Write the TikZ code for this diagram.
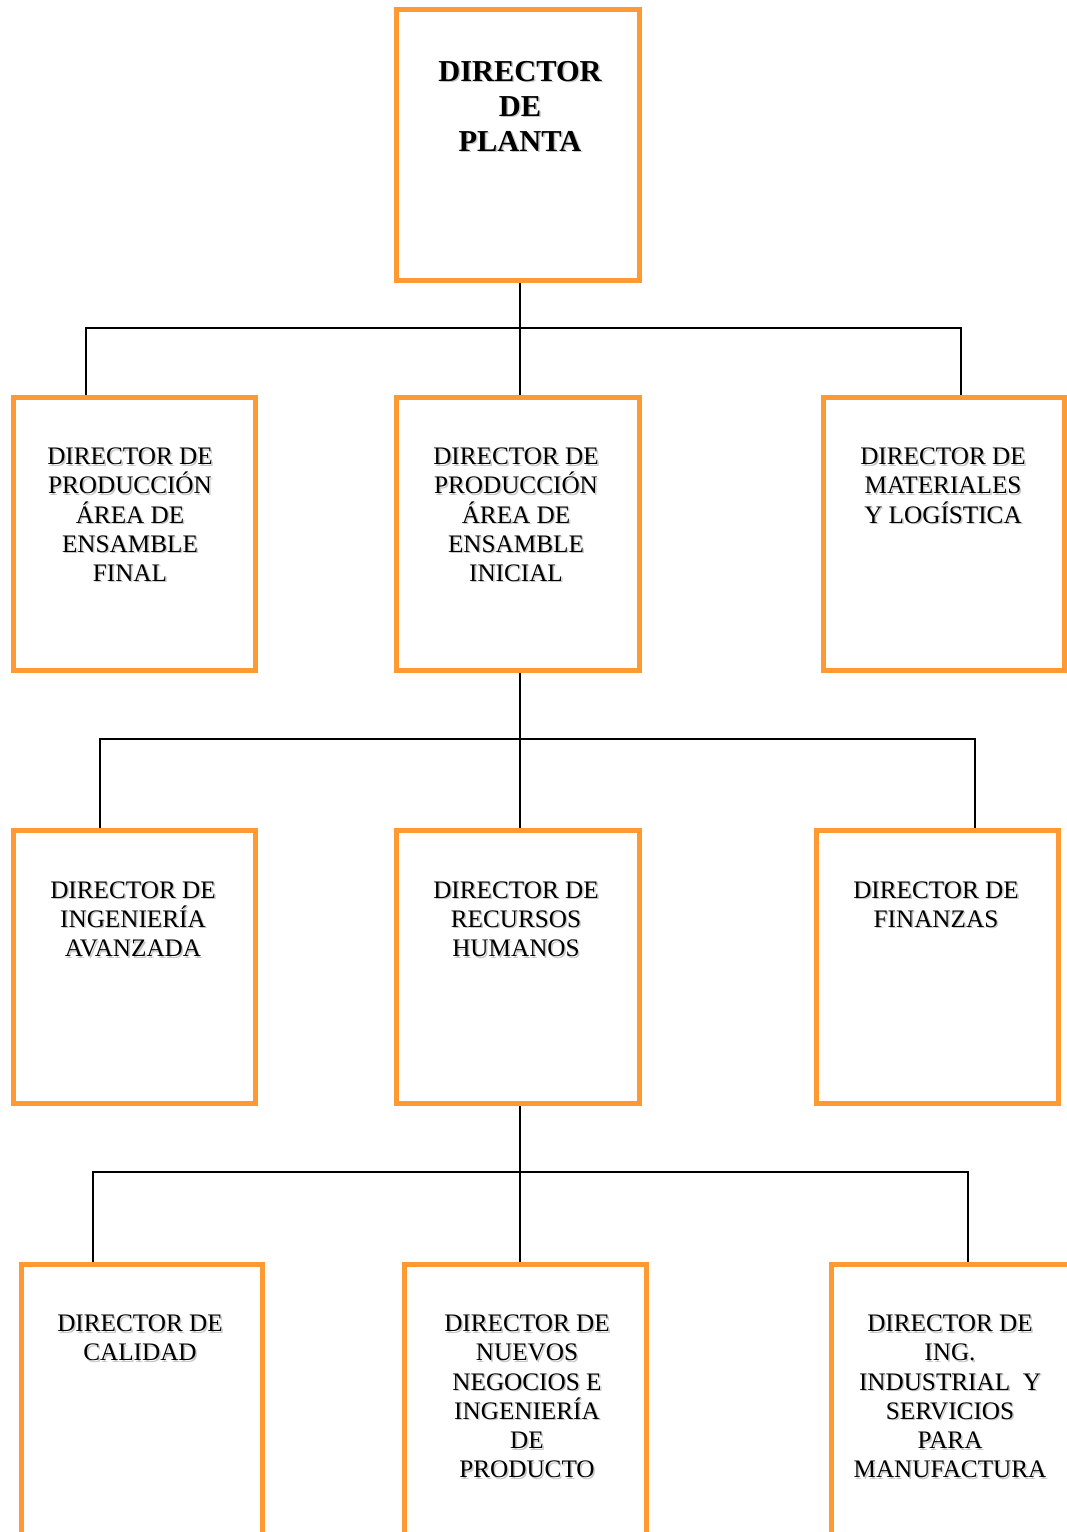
\documentclass[tikz,border=0pt]{standalone}
\usepackage{fontspec}
\setmainfont{Liberation Serif}
\definecolor{boxorange}{HTML}{FF9933}
\tikzset{
  orgbox/.style={fill=white, rectangle, inner sep=0pt, outer sep=0pt},
  frame/.style={draw=boxorange, line width=5pt},
  wire/.style={draw=black, line width=2pt},
  lbltext/.style={align=center, inner sep=0pt, outer sep=0pt, anchor=north,
    font=\fontsize{25.2}{29.2}\selectfont},
  ttltext/.style={align=center, inner sep=0pt, outer sep=0pt, anchor=north,
    font=\fontsize{30.4}{35}\selectfont\bfseries},
  shade/.style={text=black!22}
}
% label with a soft drop shadow: #1 name, #2 style, #3 position, #4 text
\newcommand{\shadowlabel}[4]{%
  \node[#2, shade] (#1-sh) at ([shift={(1.5,1.5)}]#3) {#4};
  \node[#2] (#1) at (#3) {#4};
}
\begin{document}
\begin{tikzpicture}[x=1pt, y=-1pt]
\useasboundingbox (0,0) rectangle (1067,1532);
\clip (0,0) rectangle (1067,1532);
\fill[white] (0,0) rectangle (1067,1532);

% bus coordinates
\coordinate (b1c) at (520,328);
\coordinate (b1l) at (86,328);
\coordinate (b1r) at (961,328);
\coordinate (b2c) at (520,739);
\coordinate (b2l) at (100,739);
\coordinate (b2r) at (975,739);
\coordinate (b3c) at (520,1172);
\coordinate (b3l) at (93,1172);
\coordinate (b3r) at (968,1172);

% box bodies
\node[orgbox, minimum width=243pt, minimum height=271.5pt] (top) at (518,144.75) {};
\node[orgbox, minimum width=242pt, minimum height=273pt] (p1l) at (134.5,533.5) {};
\node[orgbox, minimum width=243pt, minimum height=273pt] (p1c) at (518,533.5) {};
\node[orgbox, minimum width=241pt, minimum height=273pt] (p1r) at (944,533.5) {};
\node[orgbox, minimum width=242pt, minimum height=273pt] (p2l) at (134.5,967) {};
\node[orgbox, minimum width=243pt, minimum height=273pt] (p2c) at (518,967) {};
\node[orgbox, minimum width=242pt, minimum height=273pt] (p2r) at (937.5,967) {};
\node[orgbox, minimum width=241.5pt, minimum height=320pt] (p3l) at (141.75,1424.5) {};
\node[orgbox, minimum width=242pt, minimum height=320pt] (p3c) at (525,1424.5) {};
\node[orgbox, minimum width=242pt, minimum height=320pt] (p3r) at (952.5,1424.5) {};

% connectors
\draw[wire] (top.south -| b1c) -- (b1c) -- (p1c.north -| b1c);
\draw[wire] (p1l.north -| b1l) -- (b1l) -- (b1r) -- (p1r.north -| b1r);
\draw[wire] (p1c.south -| b2c) -- (b2c) -- (p2c.north -| b2c);
\draw[wire] (p2l.north -| b2l) -- (b2l) -- (b2r) -- (p2r.north -| b2r);
\draw[wire] (p2c.south -| b3c) -- (b3c) -- (p3c.north -| b3c);
\draw[wire] (p3l.north -| b3l) -- (b3l) -- (b3r) -- (p3r.north -| b3r);

% orange frames over the wire ends
\foreach \b in {top,p1l,p1c,p1r,p2l,p2c,p2r,p3l,p3c,p3r}{
  \draw[frame] (\b.north west) rectangle (\b.south east);
}

% labels
\shadowlabel{ttop}{ttltext}{520,61}{DIRECTOR\\DE\\PLANTA}
\shadowlabel{t1l}{lbltext}{130,448}{DIRECTOR DE\\PRODUCCIÓN\\ÁREA DE\\ENSAMBLE\\FINAL}
\shadowlabel{t1c}{lbltext}{516,448}{DIRECTOR DE\\PRODUCCIÓN\\ÁREA DE\\ENSAMBLE\\INICIAL}
\shadowlabel{t1r}{lbltext}{943,448}{DIRECTOR DE\\MATERIALES\\Y LOGÍSTICA}
\shadowlabel{t2l}{lbltext}{133,881.5}{DIRECTOR DE\\INGENIERÍA\\AVANZADA}
\shadowlabel{t2c}{lbltext}{516,881.5}{DIRECTOR DE\\RECURSOS\\HUMANOS}
\shadowlabel{t2r}{lbltext}{936,881.5}{DIRECTOR DE\\FINANZAS}
\shadowlabel{t3l}{lbltext}{140,1315}{DIRECTOR DE\\CALIDAD}
\shadowlabel{t3c}{lbltext}{527,1315}{DIRECTOR DE\\NUEVOS\\NEGOCIOS E\\INGENIERÍA\\DE\\PRODUCTO}
\shadowlabel{t3r}{lbltext}{950,1315}{DIRECTOR DE\\ING.\\INDUSTRIAL~~Y\\SERVICIOS\\PARA\\MANUFACTURA}
\end{tikzpicture}
\end{document}
